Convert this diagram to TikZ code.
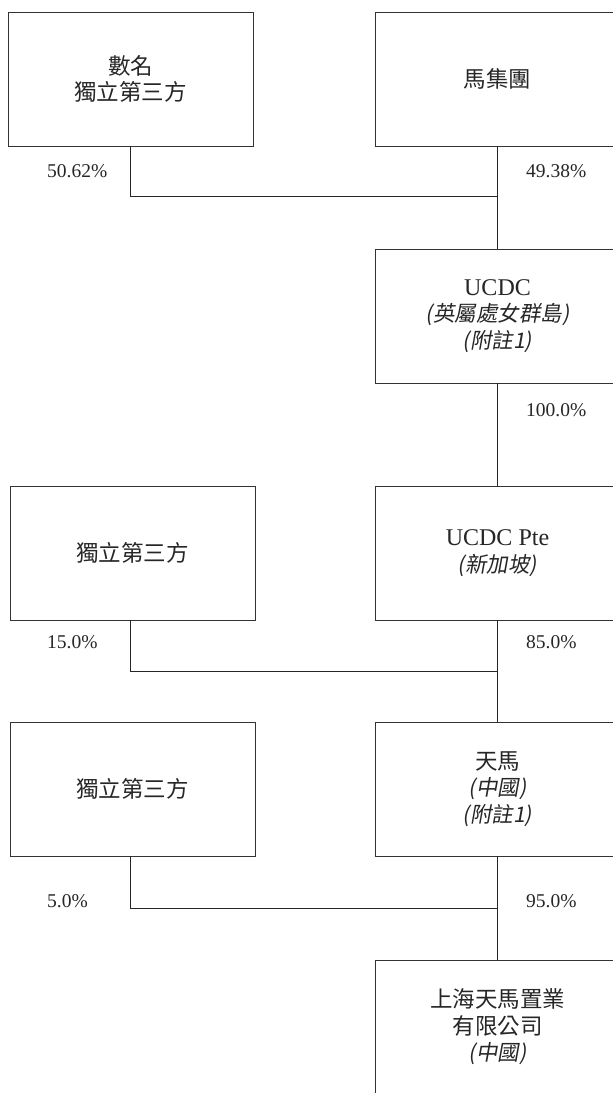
\documentclass[tikz,border=0pt]{standalone}
\usepackage{fontspec}
\setmainfont{Liberation Serif}
\newfontfamily\cjk{Noto Sans CJK TC}
\newfontfamily\cjksl[FakeSlant=0.18]{Noto Sans CJK TC}
\newcommand\boxfont{\fontsize{22.5}{26.5}\selectfont\cjk}
\newcommand\latbig{\fontsize{24}{26.5}\selectfont\rmfamily}
\newcommand\slcjk{\fontsize{21.5}{26.5}\selectfont\cjksl}
\begin{document}
\begin{tikzpicture}[x=1pt,y=-1pt,
  box/.style={draw=black!80, line width=0.9pt, minimum width=245pt, minimum height=134pt,
    inner sep=0pt, align=center, text=black!85, font=\boxfont},
  link/.style={draw=black!85, line width=0.9pt},
  pct/.style={anchor=base west, inner sep=0pt, text=black!85,
    font=\fontsize{19.5}{22}\selectfont\rmfamily}]
\useasboundingbox (0,0) rectangle (613,1093);
\clip (0,0) rectangle (613,1093);
% boxes
\node[box] (b1) at (130.5,79) {數名\\獨立第三方};
\node[box] (b2) at (497.5,79) {馬集團};
\node[box] (ucdc) at (497.5,316) {{\latbig UCDC}\\{\slcjk (英屬處女群島)}\\{\slcjk (附註1)}};
\node[box] (l2) at (132.5,553) {獨立第三方};
\node[box] (pte) at (497.5,553) {{\latbig UCDC Pte}\\{\slcjk (新加坡)}};
\node[box] (l3) at (132.5,789) {獨立第三方};
\node[box] (tm) at (497.5,789) {天馬\\{\slcjk (中國)}\\{\slcjk (附註1)}};
\node[box] (sh) at (497.5,1027) {上海天馬置業\\有限公司\\{\slcjk (中國)}};
% join points
\coordinate (j1) at (497.5,196);
\coordinate (j2) at (497.5,671);
\coordinate (j3) at (497.5,908);
% connectors
\draw[link] (b1.south) |- (j1);
\draw[link] (b2.south) -- (ucdc.north);
\draw[link] (ucdc.south) -- (pte.north);
\draw[link] ([xshift=-2pt]l2.south) |- (j2);
\draw[link] (pte.south) -- (tm.north);
\draw[link] ([xshift=-2pt]l3.south) |- (j3);
\draw[link] (tm.south) -- (sh.north);
% percentages
\node[pct] (p1) at (47,177.5) {50.62\%};
\node[pct] (p2) at (526,177.5) {49.38\%};
\node[pct] (p3) at (526,416.5) {100.0\%};
\node[pct] (p4) at (47,648) {15.0\%};
\node[pct] (p5) at (526,648) {85.0\%};
\node[pct] (p6) at (47,907) {5.0\%};
\node[pct] (p7) at (526,907) {95.0\%};
\end{tikzpicture}
\end{document}
